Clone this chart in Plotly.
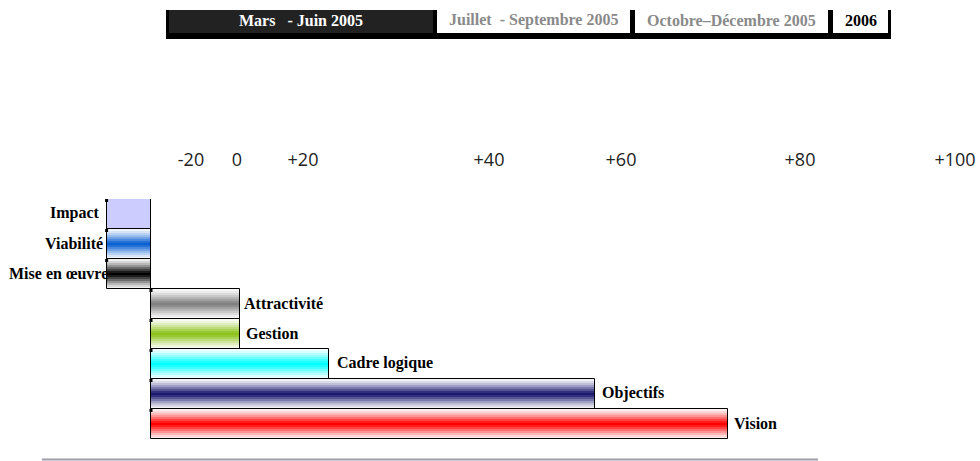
import plotly.graph_objects as go

# ---- data -------------------------------------------------------------
criteria = ["Impact", "Viabilité", "Mise en œuvre", "Attractivité",
            "Gestion", "Cadre logique", "Objectifs", "Vision"]
scores = [-10, -10, -10, 20, 20, 40, 100, 130]
bar_colors = ["#ccccff", "#0a5fd2", "#000000", "#808080",
              "#8cc21a", "#00ffff", "#1a1a70", "#ff0000"]
flat_fill = [True, False, False, False, False, False, False, False]

periods = ["Mars\u00a0\u00a0\u00a0- Juin 2005", "Juillet\u00a0\u00a0- Septembre 2005",
           "Octobre–Décembre 2005", "2006"]
period_colors = ["#ffffff", "#8a8a8a", "#8a8a8a", "#000000"]

scale_labels = ["-20", "0", "+20", "+40", "+60", "+80", "+100"]

# ---- geometry / style -------------------------------------------------
W, H = 980, 461
TOP, BOTTOM = 199, 439          # plot area in pixels
label_pos = [191, 237, 303, 489, 621, 800, 955]   # pixel centres of scale labels
label_shift = [-5, -2, 3, 2, 4, 6, 5, 4]          # text nudges next to bars


def px(xp):
    return xp / W


def py(yp):
    return (BOTTOM - yp) / (BOTTOM - TOP)


def mix(hex_color, t):
    r, g, b = (int(hex_color[i:i + 2], 16) for i in (1, 3, 5))
    r = round(255 + (r - 255) * t)
    g = round(255 + (g - 255) * t)
    b = round(255 + (b - 255) * t)
    return f"rgb({r},{g},{b})"


fig = go.Figure()
idx = list(range(len(criteria)))

# stacked layers of shrinking height give each bar a glassy vertical gradient
layers = [(1.00, 0.06), (0.88, 0.16), (0.74, 0.28), (0.60, 0.42),
          (0.46, 0.58), (0.32, 0.74), (0.18, 0.90), (0.07, 1.00)]
for w, t in layers:
    cols = [c if flat else mix(c, t) for c, flat in zip(bar_colors, flat_fill)]
    fig.add_trace(go.Bar(
        x=scores, y=idx, orientation="h", width=w,
        marker=dict(color=cols, line=dict(width=0)),
        hoverinfo="skip", showlegend=False))

# outline on top
fig.add_trace(go.Bar(
    x=scores, y=idx, orientation="h", width=1.0,
    marker=dict(color="rgba(0,0,0,0)", line=dict(color="black", width=1)),
    hovertemplate="%{customdata}: %{x}<extra></extra>",
    customdata=criteria, showlegend=False))

# small corner marks at the start of every bar
fig.add_trace(go.Scatter(
    x=[min(v, 0) for v in scores], y=[i - 0.45 for i in idx],
    mode="markers", marker=dict(symbol="square", size=3, color="black"),
    hoverinfo="skip", showlegend=False))

# dummy trace to carry the top scale axis
fig.add_trace(go.Scatter(x=[], y=[], xaxis="x2", showlegend=False))

annotations = []
for i, (name, v) in enumerate(zip(criteria, scores)):
    annotations.append(dict(
        x=v, y=i, xref="x", yref="y", text=f"<b>{name}</b>", showarrow=False,
        xanchor="left" if v > 0 else "right", yanchor="middle",
        xshift=label_shift[i], yshift=1,
        font=dict(family="Liberation Serif", size=16, color="black"),
    ))

# header band of periods
cells = [(169, 433), (437, 630), (635, 828), (833, 888)]
shapes = [dict(type="rect", xref="paper", yref="paper",
               x0=px(166), x1=px(891), y0=py(39), y1=py(10),
               fillcolor="black", line=dict(width=0), layer="above")]
for k, (a, b) in enumerate(cells):
    shapes.append(dict(type="rect", xref="paper", yref="paper",
                       x0=px(a), x1=px(b), y0=py(33), y1=py(10),
                       fillcolor="#222222" if k == 0 else "white",
                       line=dict(width=0), layer="above"))
    annotations.append(dict(
        x=px((a + b) / 2), y=py(20), xref="paper", yref="paper",
        text=f"<b>{periods[k]}</b>", showarrow=False,
        xanchor="center", yanchor="middle",
        font=dict(family="Liberation Serif", size=16, color=period_colors[k])))

# thin rule along the bottom
shapes.append(dict(type="line", xref="paper", yref="paper",
                   x0=px(42), x1=px(818), y0=py(459.5), y1=py(459.5),
                   line=dict(color="#9d9cab", width=2)))

s = 4.44
x0 = -151 / s
fig.update_layout(
    width=W, height=H,
    margin=dict(l=0, r=0, t=TOP, b=H - BOTTOM, autoexpand=False),
    paper_bgcolor="white", plot_bgcolor="white",
    barmode="overlay", bargap=0,
    xaxis=dict(range=[x0, x0 + W / s], visible=False),
    xaxis2=dict(range=[0, W], overlaying="x", side="top", anchor="y",
                tickvals=label_pos, ticktext=scale_labels,
                showgrid=False, zeroline=False, showline=False,
                ticks="outside", ticklen=25, tickcolor="rgba(0,0,0,0)",
                tickfont=dict(family="Open Sans", size=18, color="#222222")),
    yaxis=dict(range=[7.5, -0.5], visible=False),
    shapes=shapes, annotations=annotations,
)

fig.write_html("out.html")
